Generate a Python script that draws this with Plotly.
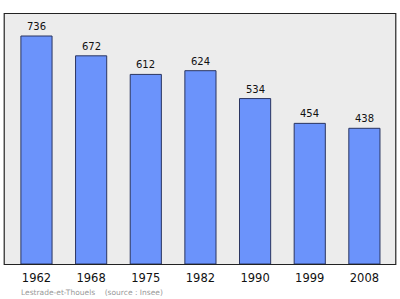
import plotly.graph_objects as go

years = ["1962", "1968", "1975", "1982", "1990", "1999", "2008"]
population = [736, 672, 612, 624, 534, 454, 438]
footnote = "Lestrade-et-Thouels    (source : Insee)"

fig = go.Figure()
fig.add_trace(go.Bar(
    x=years, y=population,
    width=0.57,
    marker=dict(color="#6b93fb", line=dict(color="#2a3560", width=1)),
    cliponaxis=False,
))

annotations = [dict(
    x=i, y=v, xref="x", yref="y", text=str(v), showarrow=False, yanchor="bottom", yshift=2,
    font=dict(family="DejaVu Sans", size=10, color="#111111"),
) for i, v in enumerate(population)]
annotations.append(dict(
    text=footnote, xref="paper", yref="paper", x=0.035, y=-0.112,
    xanchor="left", yanchor="middle", showarrow=False,
    font=dict(family="DejaVu Sans", size=7.5, color="#999999"),
))

fig.update_layout(
    width=400, height=299,
    margin=dict(l=5, r=5, t=14, b=35),
    paper_bgcolor="white",
    plot_bgcolor="#ececec",
    showlegend=False,
    xaxis=dict(
        type="category", range=[-0.576, 6.56],
        showgrid=False, zeroline=False, showline=False,
        ticks="", ticklabelstandoff=5,
        tickfont=dict(family="DejaVu Sans", size=11.5, color="#111111"),
    ),
    yaxis=dict(range=[0, 807], visible=False),
    annotations=annotations,
)
fig.add_shape(type="rect", xref="paper", yref="paper", x0=-0.002, x1=1.002, y0=-0.002, y1=1.002,
              line=dict(color="#222222", width=1.2), layer="above")
fig.write_html("out.html")
